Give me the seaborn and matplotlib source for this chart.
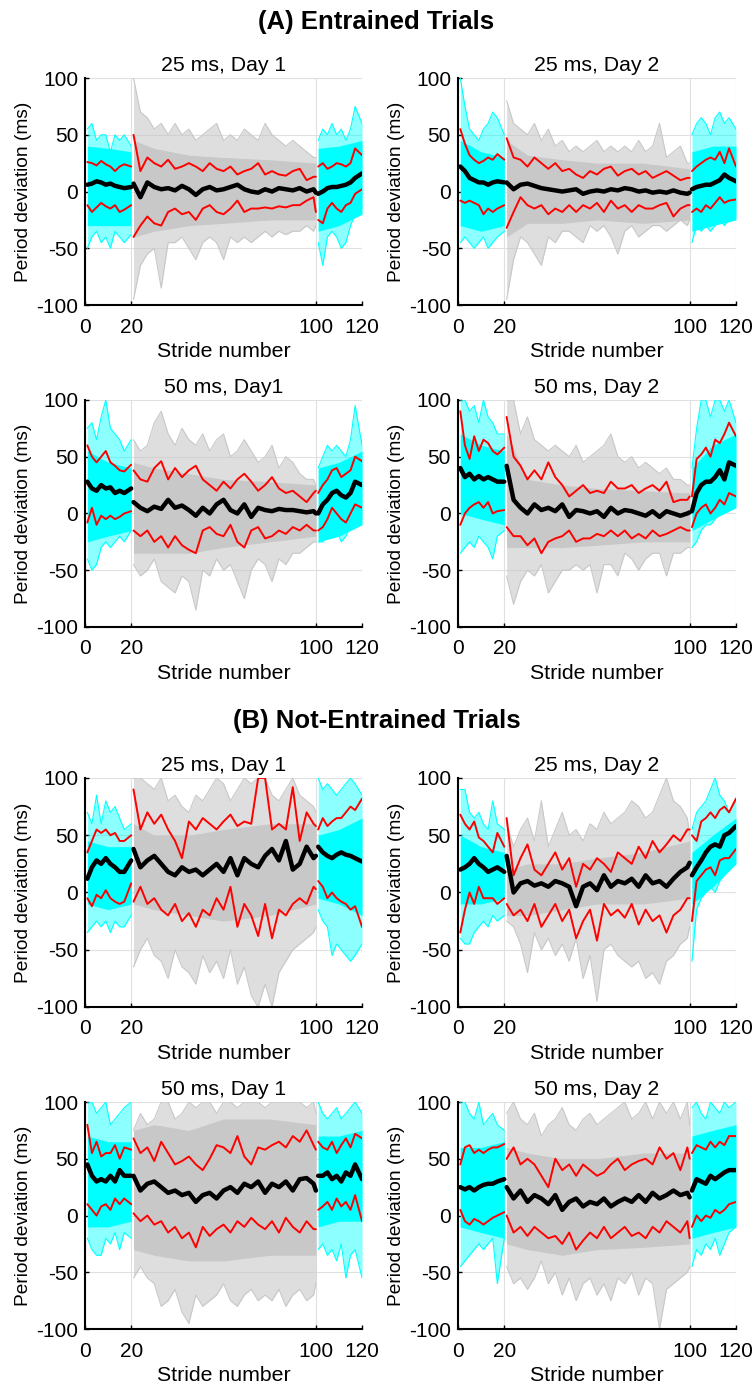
import numpy as np
import matplotlib
matplotlib.use('Agg')
import matplotlib.pyplot as plt
import seaborn as sns

sns.set_style('white')
plt.rcParams['font.family'] = ['Liberation Sans', 'DejaVu Sans']
plt.rcParams['axes.unicode_minus'] = False
plt.rcParams['text.color'] = 'black'
plt.rcParams['axes.labelcolor'] = 'black'

# stride positions (3 phases: 1-20, 21-100, 101-120)
seg1_x = [1, 3, 5, 7, 9, 11, 13, 15, 17, 20]
seg2_x = [21, 24, 27, 30, 33, 36, 39, 42, 45, 48, 51, 54, 57, 60, 63, 66, 69, 72, 75, 78,
          81, 84, 87, 90, 93, 96, 99, 100]
seg3_x = [101, 103, 105, 107, 109, 111, 113, 115, 117, 120]
stride_x = seg1_x + seg2_x + seg3_x
band_x = [1, 10, 20, 21, 30, 45, 60, 80, 100, 101, 110, 120]

# ---- (A) 25 ms, Day 1
a1_mean = [6, 7, 9, 8, 6, 7, 5, 4, 3, 4,
           7, -5, 8, 4, 2, 3, 1, 5, 2, -3, 2, 4, 1, 2, 4, 6, 2, 0, -1, 2, 0, 3, 2, 1, 3, 0, 2, -1,
           -2, 0, 3, 4, 4, 5, 6, 8, 12, 16]
a1_upper = [26, 25, 23, 27, 24, 22, 18, 22, 24, 22,
            50, 18, 30, 25, 22, 28, 20, 22, 25, 22, 18, 25, 20, 18, 22, 15, 18, 20, 25, 15, 18, 15, 14, 18, 20, 10, 13, 13,
            22, 25, 20, 22, 25, 24, 22, 25, 38, 32]
a1_lower = [-12, -18, -14, -10, -13, -15, -12, -18, -16, -12,
            -40, -30, -22, -28, -30, -18, -15, -20, -18, -25, -15, -12, -18, -20, -15, -8, -18, -15, -15, -14, -15, -13, -14, -12, -12, -8, -5, -18,
            -25, -28, -15, -10, -15, -18, -12, -10, -2, 2]
a1_env_hi = [55, 60, 45, 50, 50, 35, 50, 45, 50, 40,
             100, 70, 65, 55, 60, 50, 60, 50, 55, 45, 50, 55, 60, 45, 50, 45, 55, 50, 45, 60, 50, 45, 40, 45, 40, 35, 30, 30,
             45, 55, 50, 60, 50, 55, 45, 55, 75, 60]
a1_env_lo = [-50, -40, -35, -45, -40, -50, -35, -40, -45, -38,
             -95, -65, -55, -50, -85, -45, -45, -40, -50, -60, -45, -40, -45, -60, -40, -45, -40, -45, -40, -35, -40, -35, -38, -35, -35, -30, -35, -30,
             -45, -65, -40, -35, -40, -50, -45, -30, -20, -15]
a1_dense_hi = [40, 38, 35, 45, 38, 32, 30, 28, 25, 38, 40, 45]
a1_dense_lo = [-30, -30, -30, -40, -35, -30, -28, -25, -25, -35, -30, -20]

# ---- (A) 25 ms, Day 2
a2_mean = [22, 18, 12, 10, 8, 8, 6, 8, 9, 8,
           8, 2, 6, 7, 5, 3, 2, 1, 0, 1, 2, -2, 0, 1, 0, 2, 1, 3, 2, 0, 1, -1, 0, -1, 1, -1, -2, -1,
           2, 4, 5, 6, 6, 8, 10, 15, 12, 9]
a2_upper = [55, 42, 32, 28, 25, 27, 30, 28, 33, 28,
            47, 30, 28, 22, 30, 25, 20, 25, 18, 20, 15, 12, 18, 15, 20, 22, 14, 18, 20, 15, 18, 12, 15, 18, 14, 10, 12, 12,
            18, 22, 25, 28, 30, 28, 35, 25, 38, 22]
a2_lower = [-8, -10, -8, -10, -12, -20, -15, -18, -15, -12,
            -32, -18, -5, -12, -15, -12, -20, -15, -18, -12, -18, -12, -15, -10, -18, -8, -15, -12, -18, -12, -15, -15, -12, -10, -22, -15, -12, -12,
            -18, -15, -18, -12, -15, -10, -5, -10, -8, -7]
a2_env_hi = [100, 75, 55, 50, 45, 55, 60, 70, 65, 50,
             80, 60, 55, 50, 60, 45, 55, 40, 45, 35, 40, 35, 40, 45, 35, 40, 35, 40, 35, 45, 35, 40, 60, 30, 35, 40, 25, 25,
             50, 60, 65, 60, 50, 65, 70, 60, 65, 55]
a2_env_lo = [-45, -40, -45, -50, -45, -40, -50, -45, -40, -35,
             -95, -60, -40, -45, -55, -65, -40, -45, -35, -35, -40, -45, -30, -35, -30, -40, -55, -35, -30, -40, -35, -30, -30, -35, -30, -25, -30, -25,
             -45, -30, -35, -30, -35, -30, -25, -30, -25, -20]
a2_dense_hi = [45, 35, 30, 45, 32, 28, 25, 25, 20, 35, 40, 40]
a2_dense_lo = [-30, -35, -30, -40, -28, -28, -25, -28, -25, -35, -30, -25]

# ---- (A) 50 ms, Day 1
a3_mean = [28, 22, 20, 25, 22, 23, 18, 20, 18, 22,
           10, 5, 2, 6, 4, 12, 5, 7, 3, -2, 5, 0, 8, 12, 3, 0, 8, -3, 5, 3, 2, 4, 3, 3, 2, 1, 2, 0,
           0, 8, 12, 18, 20, 16, 14, 18, 28, 25]
a3_upper = [60, 50, 45, 50, 55, 45, 42, 38, 37, 43,
            38, 30, 28, 40, 46, 30, 40, 32, 38, 42, 30, 25, 20, 28, 22, 30, 35, 28, 20, 25, 32, 22, 18, 20, 15, 10, 18, 20,
            18, 25, 30, 38, 40, 32, 35, 38, 50, 46]
a3_lower = [-8, 5, -10, -2, -5, -2, -5, -3, 0, 2,
            -15, -20, -15, -25, -20, -30, -20, -28, -32, -35, -15, -12, -18, -20, -10, -25, -30, -15, -12, -22, -20, -15, -18, -12, -15, -10, -15, -15,
            -15, -12, -5, 5, 0, -5, -8, 0, 8, 5]
a3_env_hi = [75, 80, 65, 85, 100, 75, 70, 65, 55, 65,
             65, 55, 60, 80, 90, 70, 60, 75, 65, 60, 70, 55, 65, 70, 50, 55, 65, 55, 45, 50, 60, 40, 50, 45, 35, 30, 30, 25,
             40, 50, 60, 55, 60, 55, 50, 65, 95, 60]
a3_env_lo = [-40, -50, -45, -30, -25, -30, -25, -20, -25, -15,
             -45, -55, -50, -40, -60, -65, -70, -55, -60, -85, -50, -55, -40, -50, -45, -60, -75, -50, -40, -45, -60, -40, -45, -35, -35, -30, -25, -25,
             -25, -25, -20, -20, -15, -25, -20, -10, -10, -5]
a3_dense_hi = [55, 45, 40, 45, 40, 35, 30, 28, 25, 40, 45, 55]
a3_dense_lo = [-25, -20, -15, -35, -35, -35, -30, -25, -20, -25, -20, -10]

# ---- (A) 50 ms, Day 2
a4_mean = [40, 32, 35, 30, 33, 30, 32, 30, 28, 28,
           42, 12, 5, 0, 8, 3, 5, 2, 8, -3, 3, 2, 0, 2, -3, 5, 0, 3, 2, 0, -2, 2, -3, 2, 0, -2, 0, 1,
           2, 18, 25, 28, 28, 32, 38, 30, 45, 42]
a4_upper = [90, 60, 48, 68, 55, 65, 62, 55, 52, 58,
            85, 50, 42, 30, 38, 30, 45, 32, 25, 15, 20, 25, 18, 20, 18, 28, 22, 22, 25, 18, 22, 25, 20, 28, 10, 12, 12, 15,
            15, 48, 52, 58, 50, 65, 62, 70, 80, 68]
a4_lower = [-10, 0, 5, 8, 10, 5, 10, 0, 2, 3,
            -12, -20, -20, -28, -22, -35, -25, -22, -20, -15, -25, -22, -22, -18, -20, -15, -20, -15, -22, -18, -22, -15, -20, -18, -15, -12, -15, -15,
            -12, 0, 5, 8, 0, 5, 12, 8, 18, 15]
a4_env_hi = [100, 100, 90, 95, 80, 100, 85, 80, 70, 70,
             100, 100, 70, 85, 65, 60, 55, 60, 55, 50, 60, 45, 50, 55, 60, 70, 50, 45, 50, 40, 45, 40, 35, 40, 30, 30, 25, 25,
             40, 75, 100, 100, 85, 100, 100, 90, 100, 80]
a4_env_lo = [-35, -30, -25, -30, -20, -25, -30, -40, -20, -15,
             -55, -80, -60, -50, -55, -45, -70, -60, -50, -50, -45, -50, -45, -70, -45, -45, -55, -35, -40, -50, -40, -35, -35, -55, -35, -35, -30, -30,
             -30, -25, -15, -10, -10, -5, 0, 5, 5, 10]
a4_dense_hi = [70, 60, 55, 70, 30, 25, 22, 20, 18, 40, 60, 70]
a4_dense_lo = [0, -5, -10, -30, -30, -30, -28, -25, -25, -15, -5, 5]

# ---- (B) 25 ms, Day 1
b1_mean = [12, 22, 28, 25, 30, 25, 22, 18, 18, 28,
           38, 22, 28, 32, 25, 18, 15, 22, 18, 20, 15, 20, 25, 18, 30, 15, 30, 25, 22, 32, 38, 28, 45, 20, 25, 40, 30, 32,
           40, 35, 32, 30, 33, 35, 33, 32, 30, 27]
b1_upper = [35, 45, 55, 52, 55, 50, 52, 45, 45, 50,
            90, 55, 70, 60, 68, 55, 45, 30, 62, 55, 65, 60, 55, 62, 68, 58, 62, 60, 100, 100, 55, 60, 55, 92, 45, 70, 60, 58,
            55, 65, 58, 62, 65, 65, 70, 75, 72, 82]
b1_lower = [-5, -12, -2, -5, 2, -5, -8, -10, -8, 8,
            -8, 5, -10, -5, -15, -20, -10, -25, -18, -30, -15, -20, -5, -15, 5, -30, -10, -20, -38, -10, -40, -15, -20, -10, -5, -10, 5, 3,
            10, 5, -5, 0, -5, -8, -10, -15, -12, -30]
b1_env_hi = [70, 60, 85, 60, 80, 70, 75, 65, 55, 60,
             100, 100, 95, 90, 100, 80, 85, 75, 70, 85, 80, 90, 100, 95, 80, 90, 100, 95, 100, 100, 85, 80, 90, 100, 85, 80, 75, 70,
             100, 90, 95, 90, 85, 90, 95, 100, 95, 85]
b1_env_lo = [-35, -30, -25, -30, -25, -35, -25, -30, -30, -20,
             -65, -50, -40, -55, -60, -75, -50, -65, -70, -80, -55, -70, -60, -75, -50, -80, -65, -90, -100, -80, -100, -70, -60, -50, -45, -40, -35, -30,
             -15, -25, -30, -55, -45, -50, -55, -60, -55, -45]
b1_dense_hi = [45, 40, 40, 60, 50, 50, 55, 60, 60, 50, 55, 65]
b1_dense_lo = [-10, -15, -10, -10, -15, -20, -25, -20, -10, -5, -10, -20]

# ---- (B) 25 ms, Day 2
b2_mean = [20, 22, 25, 30, 25, 22, 18, 20, 22, 18,
           32, 0, 8, 10, 6, 8, 5, 10, 8, 5, -12, 5, 8, 2, 15, 5, 10, 8, 12, 5, 15, 8, 10, 5, 12, 18, 22, 26,
           15, 22, 28, 35, 40, 42, 40, 50, 52, 58]
b2_upper = [68, 60, 55, 62, 48, 45, 40, 35, 52, 40,
            65, 15, 30, 42, 20, 15, 25, 35, 20, 30, 5, 25, 20, 30, 25, 18, 35, 30, 25, 40, 30, 45, 35, 42, 50, 45, 55, 55,
            50, 45, 62, 65, 70, 65, 72, 75, 70, 82]
b2_lower = [-35, -15, 0, -10, 5, -5, -5, -5, -10, -5,
            -10, -20, -15, -25, -10, -30, -20, -10, -25, -15, -40, -25, -15, -42, -10, -20, -15, -22, -10, -28, -15, -25, -20, -35, -20, -15, -5, -5,
            -25, 10, 15, 20, 22, 15, 28, 30, 30, 38]
b2_env_hi = [90, 90, 70, 65, 70, 60, 55, 80, 60, 55,
             60, 40, 55, 65, 45, 80, 40, 55, 70, 50, 55, 45, 60, 55, 70, 60, 65, 70, 80, 75, 65, 70, 85, 100, 80, 75, 65, 50,
             55, 70, 75, 80, 90, 100, 85, 80, 70, 80]
b2_env_lo = [-40, -45, -45, -35, -30, -25, -30, -20, -25, -20,
             -25, -30, -45, -70, -35, -50, -40, -55, -45, -60, -40, -75, -55, -95, -50, -45, -55, -60, -65, -60, -75, -70, -80, -60, -55, -45, -40, -30,
             -60, -15, -5, 0, 5, 0, 10, 15, 20, 35]
b2_dense_hi = [50, 40, 35, 20, 25, 25, 30, 35, 45, 35, 50, 65]
b2_dense_lo = [-10, -10, -5, -20, -20, -15, -10, -10, -5, -10, 5, 25]

# ---- (B) 50 ms, Day 1
b3_mean = [45, 35, 30, 32, 30, 35, 30, 40, 35, 35,
           35, 22, 28, 30, 25, 20, 22, 18, 20, 12, 18, 20, 15, 22, 25, 20, 28, 25, 30, 20, 28, 25, 30, 22, 32, 33, 28, 22,
           35, 35, 38, 32, 35, 30, 38, 35, 45, 32]
b3_upper = [80, 55, 65, 52, 55, 55, 62, 50, 60, 58,
            68, 55, 60, 48, 65, 55, 45, 48, 52, 45, 40, 50, 62, 60, 55, 70, 52, 45, 60, 58, 62, 65, 60, 70, 65, 75, 62, 58,
            65, 60, 58, 65, 55, 62, 68, 60, 72, 68]
b3_lower = [10, 5, 0, 8, 10, 5, 15, 10, 15, 10,
            2, -5, 0, -8, -5, -15, -10, -20, -15, -28, -10, -18, -12, -8, -15, -5, -10, -2, -8, -12, -5, -15, -2, -10, -15, -5, -12, -12,
            5, 8, 12, 5, 15, 8, 12, 5, 18, -5]
b3_env_hi = [100, 100, 90, 95, 100, 80, 85, 90, 95, 100,
             75, 90, 80, 85, 100, 100, 85, 90, 100, 95, 100, 100, 90, 100, 100, 95, 100, 100, 100, 95, 100, 100, 100, 100, 100, 95, 100, 90,
             100, 90, 85, 90, 95, 85, 90, 95, 100, 90]
b3_env_lo = [-20, -30, -35, -35, -20, -25, -15, -30, -15, -20,
             -55, -45, -55, -60, -80, -75, -65, -85, -95, -70, -80, -75, -70, -60, -75, -80, -70, -65, -75, -70, -75, -65, -80, -70, -65, -75, -70, -60,
             -30, -25, -35, -30, -40, -25, -55, -35, -30, -55]
b3_dense_hi = [70, 65, 65, 75, 80, 75, 85, 85, 80, 70, 70, 75]
b3_dense_lo = [-10, -10, -5, -30, -35, -40, -40, -35, -35, -10, -5, -5]

# ---- (B) 50 ms, Day 2
b4_mean = [25, 23, 25, 22, 25, 27, 28, 28, 30, 32,
           25, 15, 22, 12, 18, 15, 10, 18, 5, 12, 15, 8, 12, 10, 15, 8, 12, 15, 12, 18, 12, 20, 15, 18, 22, 18, 20, 16,
           22, 32, 30, 28, 35, 32, 35, 38, 40, 40]
b4_upper = [45, 60, 62, 55, 58, 55, 58, 60, 60, 63,
            50, 60, 45, 50, 45, 35, 25, 50, 40, 45, 35, 45, 40, 35, 38, 45, 50, 40, 45, 48, 50, 45, 60, 50, 55, 40, 60, 50,
            55, 62, 60, 58, 65, 60, 65, 62, 70, 70]
b4_lower = [5, -5, -8, -3, -5, -8, -5, -2, 0, 3,
            0, -15, -10, -18, -10, -15, -20, -18, -25, -15, -30, -22, -15, -20, -10, -20, -15, -10, -18, -15, -20, -10, -15, -5, -10, -15, -5, -20,
            -10, 0, -5, 0, -2, 5, 2, 5, 10, 12]
b4_env_hi = [100, 100, 90, 85, 100, 80, 85, 90, 80, 75,
             90, 100, 85, 80, 90, 70, 80, 85, 95, 80, 75, 85, 90, 80, 85, 90, 95, 100, 85, 90, 100, 85, 100, 90, 100, 85, 100, 80,
             95, 100, 90, 85, 100, 95, 90, 100, 95, 100]
b4_env_lo = [-45, -40, -35, -30, -25, -30, -25, -20, -60, -20,
             -45, -60, -55, -65, -55, -40, -60, -50, -70, -55, -75, -60, -55, -70, -60, -75, -55, -60, -50, -70, -55, -60, -100, -65, -60, -55, -50, -45,
             -45, -30, -35, -25, -30, -20, -35, -25, -15, -10]
b4_dense_hi = [60, 60, 65, 60, 55, 50, 50, 55, 55, 70, 75, 80]
b4_dense_lo = [-10, -15, -20, -25, -30, -35, -30, -28, -25, -20, -15, -10]

# panel table: (axes rect, title, series...)
L, W = 0.1129, 0.3679
R, WR = 0.6082, 0.3692
panels = [
    ([L, 0.7810, W, 0.1630], '25 ms, Day 1', a1_mean, a1_upper, a1_lower, a1_env_hi, a1_env_lo, a1_dense_hi, a1_dense_lo),
    ([R, 0.7810, WR, 0.1630], '25 ms, Day 2', a2_mean, a2_upper, a2_lower, a2_env_hi, a2_env_lo, a2_dense_hi, a2_dense_lo),
    ([L, 0.5499, W, 0.1630], '50 ms, Day1', a3_mean, a3_upper, a3_lower, a3_env_hi, a3_env_lo, a3_dense_hi, a3_dense_lo),
    ([R, 0.5499, WR, 0.1630], '50 ms, Day 2', a4_mean, a4_upper, a4_lower, a4_env_hi, a4_env_lo, a4_dense_hi, a4_dense_lo),
    ([L, 0.2771, W, 0.1644], '25 ms, Day 1', b1_mean, b1_upper, b1_lower, b1_env_hi, b1_env_lo, b1_dense_hi, b1_dense_lo),
    ([R, 0.2771, WR, 0.1644], '25 ms, Day 2', b2_mean, b2_upper, b2_lower, b2_env_hi, b2_env_lo, b2_dense_hi, b2_dense_lo),
    ([L, 0.0459, W, 0.1630], '50 ms, Day 1', b3_mean, b3_upper, b3_lower, b3_env_hi, b3_env_lo, b3_dense_hi, b3_dense_lo),
    ([R, 0.0459, WR, 0.1630], '50 ms, Day 2', b4_mean, b4_upper, b4_lower, b4_env_hi, b4_env_lo, b4_dense_hi, b4_dense_lo),
]

seg_idx = [(0, 10), (10, 38), (38, 48)]
band_idx = [(0, 3), (3, 9), (9, 12)]
seg_col = ['#00ffff', '#c8c8c8', '#00ffff']
seg_alpha = [0.45, 0.6, 0.45]

fig = plt.figure(figsize=(7.53, 13.93), dpi=100)
x = np.array(stride_x)
bx = np.array(band_x)

for rect, title, mean, upper, lower, ehi, elo, dhi, dlo in panels:
    ax = fig.add_axes(rect)
    mean, upper, lower = np.array(mean), np.array(upper), np.array(lower)
    ehi, elo, dhi, dlo = np.array(ehi), np.array(elo), np.array(dhi), np.array(dlo)
    for (a, b), (c, d), col, al in zip(seg_idx, band_idx, seg_col, seg_alpha):
        # individual trials: sparse spread + dense core
        ax.fill_between(x[a:b], elo[a:b], ehi[a:b], color=col, alpha=al, lw=0)
        ax.plot(x[a:b], ehi[a:b], color=col, lw=0.8)
        ax.plot(x[a:b], elo[a:b], color=col, lw=0.8)
        ax.fill_between(bx[c:d], dlo[c:d], dhi[c:d], color=col, lw=0)
        # mean +/- SD
        sns.lineplot(x=x[a:b], y=upper[a:b], color='red', lw=1.4, ax=ax)
        sns.lineplot(x=x[a:b], y=lower[a:b], color='red', lw=1.4, ax=ax)
        sns.lineplot(x=x[a:b], y=mean[a:b], color='black', lw=3.2, ax=ax)

    ax.set_xlim(0, 120)
    ax.set_ylim(-100, 100)
    ax.set_xticks([0, 20, 100, 120])
    ax.set_yticks([-100, -50, 0, 50, 100])
    ax.grid(True, color='#e0e0e0', lw=0.8)
    ax.set_axisbelow(True)
    for s in ['top', 'right']:
        ax.spines[s].set_visible(False)
    for s in ['left', 'bottom']:
        ax.spines[s].set_color('black')
        ax.spines[s].set_linewidth(1.5)
    ax.tick_params(direction='in', length=3, width=1, labelsize=15, colors='black',
                   left=True, bottom=True)
    ax.tick_params(axis='x', pad=9)
    ax.tick_params(axis='y', pad=5)
    ax.set_title(title, fontsize=15.3, pad=5)
    ax.set_xlabel('Stride number', fontsize=15.3, labelpad=4)
    ax.set_ylabel('Period deviation (ms)', fontsize=13.8, labelpad=3)

fig.text(0.5, 1 - 22 / 1393, '(A) Entrained Trials', ha='center', va='center',
         fontsize=18.5, fontweight='bold')
fig.text(0.5, 1 - 721 / 1393, '(B) Not-Entrained Trials', ha='center', va='center',
         fontsize=18.5, fontweight='bold')

fig.savefig('out.png', dpi=100)
